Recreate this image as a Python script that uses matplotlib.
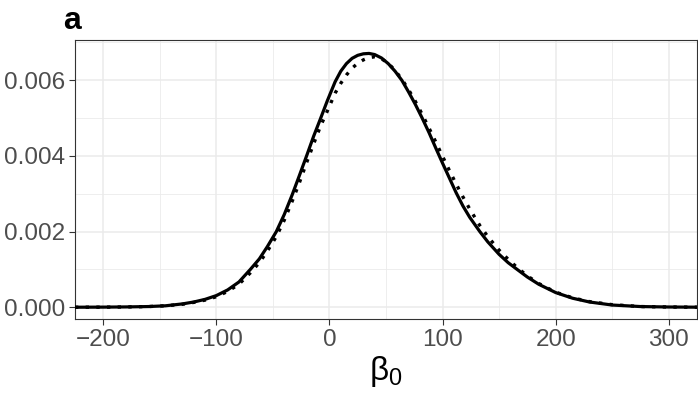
import matplotlib
matplotlib.use("Agg")
import matplotlib.pyplot as plt

plt.rcParams['font.family'] = ['Liberation Sans', 'DejaVu Sans']
plt.rcParams['mathtext.fontset'] = 'custom'
plt.rcParams['mathtext.rm'] = 'Liberation Sans'
plt.rcParams['mathtext.it'] = 'Liberation Sans'

# density curves
beta0 = [-225, -200, -180, -160, -145, -130, -120, -110, -100, -90, -80, -70,
         -62, -55, -47, -40, -33, -27, -20, -14, -8, -2, 5, 10, 15, 20, 25,
         30, 35, 40, 46, 52, 58, 64, 70, 76, 82, 88, 94, 100, 106, 112, 118,
         124, 133, 140, 150, 158, 166, 175, 185, 200, 215, 230, 250, 275,
         300, 325]
dens_solid = [0.000002, 0.000005, 0.00001, 0.00002, 0.00004, 0.00009,
              0.00014, 0.00021, 0.00031, 0.00046, 0.00067, 0.00100, 0.00128,
              0.00160, 0.00200, 0.00245, 0.00297, 0.00345, 0.00402, 0.00452,
              0.00498, 0.00545, 0.00596, 0.00624, 0.00644, 0.00658, 0.00666,
              0.00670, 0.00671, 0.00668, 0.00659, 0.00644, 0.00624, 0.00600,
              0.00569, 0.00536, 0.00500, 0.00462, 0.00421, 0.00381, 0.00342,
              0.00303, 0.00268, 0.00238, 0.00200, 0.00173, 0.00140, 0.00118,
              0.00100, 0.00080, 0.00061, 0.00039, 0.00024, 0.00014, 0.00006,
              0.00002, 0.000008, 0.000003]
dens_dotted = [0.000002, 0.000004, 0.000009, 0.00002, 0.00004, 0.00008,
               0.00013, 0.00019, 0.00028, 0.00042, 0.00061, 0.00091, 0.00118,
               0.00148, 0.00187, 0.00230, 0.00280, 0.00326, 0.00384, 0.00432,
               0.00478, 0.00518, 0.00566, 0.00592, 0.00614, 0.00632, 0.00645,
               0.00654, 0.00660, 0.00662, 0.00657, 0.00645, 0.00626, 0.00603,
               0.00575, 0.00544, 0.00510, 0.00474, 0.00437, 0.00399, 0.00362,
               0.00326, 0.00292, 0.00260, 0.00216, 0.00187, 0.00151, 0.00127,
               0.00105, 0.00083, 0.00063, 0.00040, 0.00025, 0.00015, 0.00007,
               0.00002, 0.000008, 0.000003]

x_ticks = [-200, -100, 0, 100, 200, 300]
y_ticks = [0.000, 0.002, 0.004, 0.006]

fig = plt.figure(figsize=(6.98, 3.97), dpi=100)
ax = fig.add_axes([75 / 698, 1 - 319.3 / 397, 622 / 698, 279.3 / 397])

ax.plot(beta0, dens_solid, color='black', lw=2.3, solid_joinstyle='round', zorder=3)
ax.plot(beta0, dens_dotted, color='black', lw=2.4, linestyle=(0, (1, 2.2)), zorder=3)

ax.set_xlim(-225, 325)
ax.set_ylim(-0.000317, 0.007065)
ax.set_xticks(x_ticks)
ax.set_xticklabels([f"\u2212{abs(t)}" if t < 0 else str(t) for t in x_ticks])
ax.set_yticks(y_ticks)
ax.set_yticklabels([f"{t:.3f}" for t in y_ticks])
ax.set_xticks([-150, -50, 50, 150, 250], minor=True)
ax.set_yticks([0.001, 0.003, 0.005, 0.007], minor=True)

ax.grid(True, which='major', color='#EBEBEB', lw=1.1, zorder=0)
ax.grid(True, which='minor', color='#EBEBEB', lw=0.6, zorder=0)
ax.set_axisbelow(True)
ax.tick_params(which='major', length=4.3, width=0.8, color='#333333',
               labelsize=17.5, labelcolor='#4D4D4D', pad=3)
ax.tick_params(which='minor', length=0)
for s in ax.spines.values():
    s.set_color('#333333')
    s.set_linewidth(0.8)

ax.set_xlabel(r'$\beta_0$', fontsize=24, labelpad=2)
fig.text(63 / 698, 1 - 29 / 397, 'a', fontsize=23, fontweight='bold', ha='left', va='baseline')

fig.savefig('out.png', dpi=100)
